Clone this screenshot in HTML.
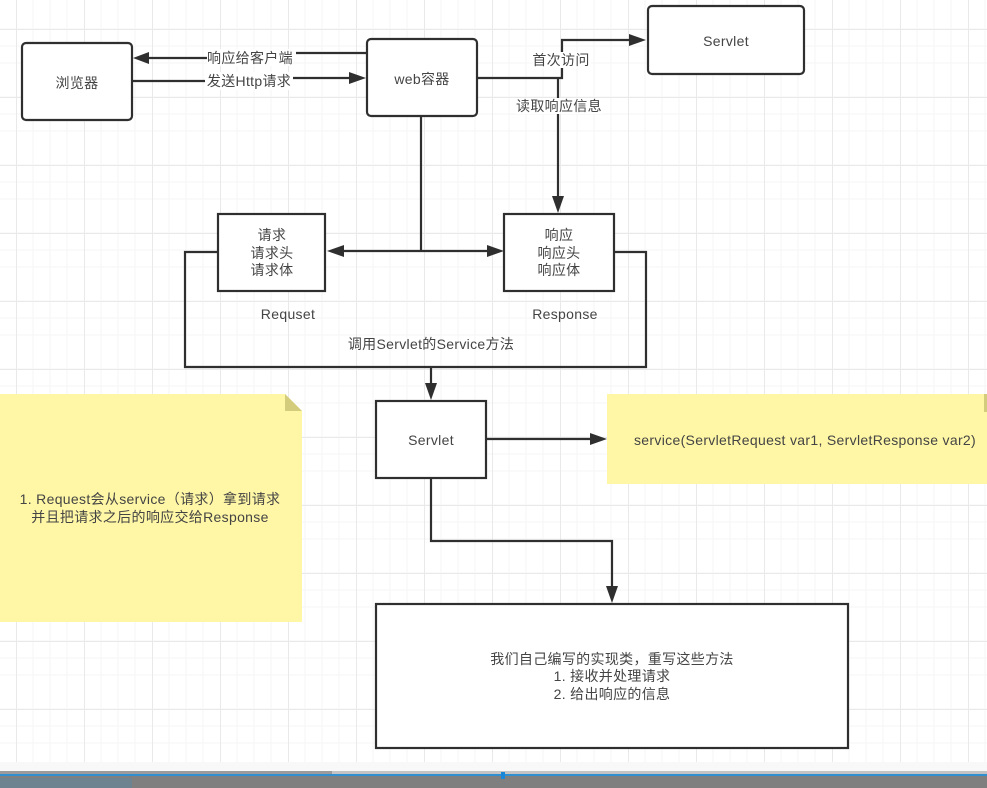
<!DOCTYPE html>
<html><head><meta charset="utf-8">
<style>
html,body{margin:0;padding:0;width:987px;height:788px;overflow:hidden;background:#fff}
svg{display:block}
text{font-family:"Liberation Sans","Noto Sans CJK SC",sans-serif;font-size:14px;fill:#444;text-anchor:middle;letter-spacing:.32px}
.b{fill:#fff;stroke:#2f2f2f;stroke-width:2.2}
.l{fill:none;stroke:#2f2f2f;stroke-width:2.2}
.a{fill:#2f2f2f;stroke:none}
.bg{fill:#fff;stroke:none}
</style></head><body>
<svg width="987" height="788" viewBox="0 0 987 788" xmlns="http://www.w3.org/2000/svg">
<defs>
<pattern id="g" x="16" y="12" width="68" height="68" patternUnits="userSpaceOnUse">
<path d="M17 0V68M34 0V68M51 0V68M0 17H68M0 34H68M0 51H68" stroke="#f5f5f5" stroke-width="1" fill="none"/>
<path d="M0.5 0V68M0 17.5H68" stroke="#e9e9e9" stroke-width="1" fill="none"/>
</pattern>
</defs>
<rect width="987" height="788" fill="#fff"/>
<rect x="0" y="0" width="987" height="762" fill="url(#g)"/>
<rect x="0" y="762" width="987" height="9" fill="#f8f8f8"/>

<!-- notes -->
<path d="M0 394H285L302 411V622H0Z" fill="#fff7a6"/>
<path d="M285 394L302 411H285Z" fill="#d2cc7c"/>
<rect x="607" y="394" width="380" height="90" fill="#fff7a6"/>
<rect x="984" y="394" width="3" height="18" fill="#d2cc7c"/>

<!-- connectors -->
<path class="l" d="M366 53H296"/><path class="l" d="M207 58H146"/>
<path class="a" d="M133 58L149 52V64Z"/>
<path class="l" d="M132 81H205"/><path class="l" d="M293 78H352"/>
<path class="a" d="M366 78L349 72V84Z"/>
<path class="l" d="M477 78H562V40H632"/>
<path class="a" d="M646 40L629 34V46Z"/>
<path class="l" d="M558 78V198"/>
<path class="a" d="M558 213L552 196H564Z"/>
<path class="l" d="M421 116V251"/>
<path class="l" d="M340 251H490"/>
<path class="a" d="M327 251L344 245V257Z"/>
<path class="a" d="M504 251L487 245V257Z"/>
<path class="l" d="M218 252H185V367H646V252H614"/>
<path class="l" d="M431 367V386"/>
<path class="a" d="M431 400L425 383H437Z"/>
<path class="l" d="M486 439H592"/>
<path class="a" d="M607 439L590 433V445Z"/>
<path class="l" d="M431 478V541H612V588"/>
<path class="a" d="M612 603L606 586H618Z"/>

<!-- nodes -->
<rect class="b" x="22" y="43" width="110" height="77" rx="4"/>
<rect class="b" x="367" y="39" width="110" height="77" rx="4"/>
<rect class="b" x="648" y="6" width="156" height="68" rx="4"/>
<rect class="b" x="218" y="214" width="107" height="77"/>
<rect class="b" x="504" y="214" width="110" height="77"/>
<rect class="b" x="376" y="401" width="110" height="77"/>
<rect class="b" x="376" y="604" width="472" height="144"/>

<!-- labels -->
<rect class="bg" x="207" y="49" width="86" height="17"/>
<rect class="bg" x="205" y="72" width="88" height="18"/>
<rect class="bg" x="533" y="52" width="58" height="16"/>
<rect class="bg" x="516" y="98" width="86" height="16"/>
<text x="77" y="88">浏览器</text>
<text x="422" y="84">web容器</text>
<text x="726" y="46">Servlet</text>
<text x="250" y="63">响应给客户端</text>
<text x="249" y="86">发送Http请求</text>
<text x="561" y="65">首次访问</text>
<text x="559" y="111">读取响应信息</text>
<text x="272" y="240">请求</text>
<text x="272" y="258">请求头</text>
<text x="272" y="275">请求体</text>
<text x="559" y="240">响应</text>
<text x="559" y="258">响应头</text>
<text x="559" y="275">响应体</text>
<text x="288" y="319">Requset</text>
<text x="565" y="319">Response</text>
<text x="431" y="349">调用Servlet的Service方法</text>
<text x="431" y="445">Servlet</text>
<text x="805" y="445">service(ServletRequest var1, ServletResponse var2)</text>
<text x="150" y="504">1. Request会从service（请求）拿到请求</text>
<text x="150" y="522">并且把请求之后的响应交给Response</text>
<text x="612" y="664">我们自己编写的实现类，重写这些方法</text>
<text x="612" y="681">1. 接收并处理请求</text>
<text x="612" y="699">2. 给出响应的信息</text>

<!-- bottom strip -->
<rect x="0" y="771" width="987" height="5" fill="#9b9b9b"/>
<rect x="0" y="774" width="987" height="2" fill="#2f8fd0"/>
<rect x="0" y="776" width="987" height="12" fill="#7f7f7f"/>
<rect x="0" y="778" width="132" height="10" fill="#6d8390"/>
<rect x="332" y="771" width="655" height="3" fill="#c4c4c4"/>
<rect x="501" y="772" width="4" height="7" fill="#1a86d8"/>
</svg>
</body></html>
